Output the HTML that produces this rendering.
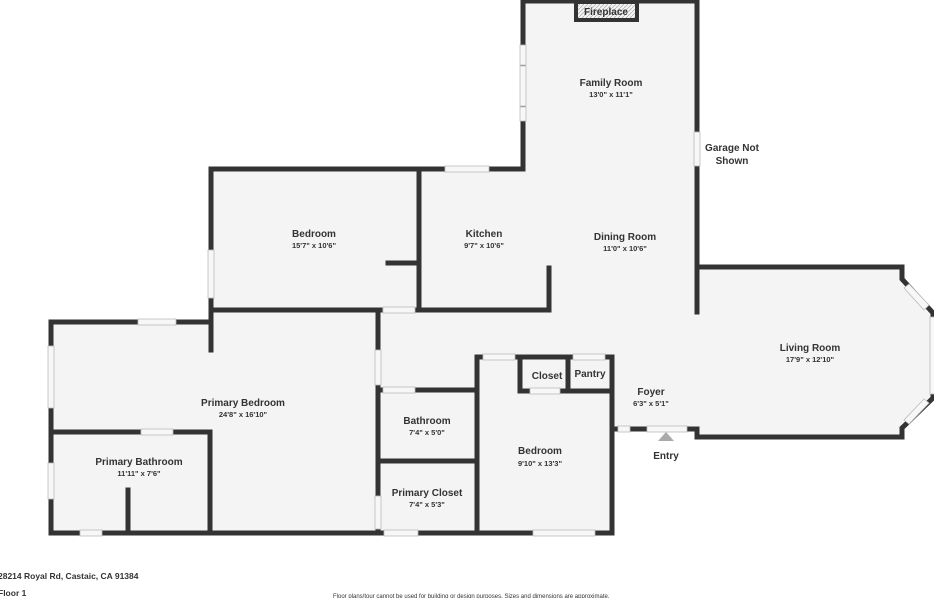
<!DOCTYPE html>
<html><head><style>
html,body{margin:0;padding:0;background:#fff;}
svg{display:block}
text{font-family:"Liberation Sans",sans-serif;fill:#333;text-anchor:middle}
.n{font-size:10px;font-weight:bold}
.d{font-size:7.5px;font-weight:bold}
</style></head><body>
<svg width="934" height="598" viewBox="0 0 934 598" xmlns="http://www.w3.org/2000/svg">
<defs><pattern id="h" width="4" height="4" patternUnits="userSpaceOnUse"><rect width="4" height="4" fill="#f4f4f4"/><path d="M0 4L4 0" stroke="#aaa" stroke-width="0.7"/></pattern></defs>
<!-- floor fill -->
<polygon fill="#f4f4f4" points="523,0 697,0 697,267 902,267 902,279 933,313 933,398 902,428 902,437 697,437 697,429 612,429 612,533 51,533 51,322 211,322 211,169 523,169"/>
<g stroke="#333" stroke-width="5" fill="none" stroke-linecap="square">
<!-- outer -->
<polyline points="523,169 523,1 697,1 697,312"/>
<polyline points="697,267 902,267 902,279 933,313 933,398 902,428 902,437 697,437 697,429 612,429"/>
<polyline points="211,169 523,169"/>
<polyline points="211,169 211,350"/>
<polyline points="211,322 51,322 51,533 612,533 612,357"/>
<!-- interior -->
<line x1="419" y1="169" x2="419" y2="310"/>
<line x1="388" y1="263" x2="419" y2="263"/>
<line x1="211" y1="310" x2="380" y2="310"/>
<line x1="416" y1="310" x2="549" y2="310"/>
<line x1="549" y1="268" x2="549" y2="310"/>
<line x1="378" y1="310" x2="378" y2="533"/>
<line x1="378" y1="390" x2="477" y2="390"/>
<line x1="378" y1="461" x2="477" y2="461"/>
<line x1="477" y1="357" x2="477" y2="533"/>
<line x1="477" y1="357" x2="612" y2="357"/>
<line x1="520" y1="357" x2="520" y2="391"/>
<line x1="568" y1="357" x2="568" y2="391"/>
<line x1="520" y1="391" x2="612" y2="391"/>
<line x1="51" y1="432" x2="210" y2="432"/>
<line x1="210" y1="432" x2="210" y2="533"/>
<line x1="128" y1="490" x2="128" y2="533"/>
</g>
<!-- doors / windows (gaps) -->
<g fill="#f7f7f7" stroke="#bbb" stroke-width="0.8">
<rect x="138" y="319" width="38" height="6"/>
<rect x="48" y="346" width="6" height="62"/>
<rect x="48" y="463" width="6" height="36"/>
<rect x="80" y="530" width="22" height="6"/>
<rect x="141" y="429" width="32" height="6"/>
<rect x="208" y="250" width="6" height="48"/>
<rect x="383" y="307" width="32" height="6"/>
<rect x="445" y="166" width="44" height="6"/>
<rect x="520" y="45" width="6" height="20"/>
<rect x="520" y="66" width="6" height="40"/>
<rect x="520" y="107" width="6" height="14"/>
<rect x="694" y="132" width="6" height="34"/>
<rect x="375" y="350" width="6" height="35"/>
<rect x="383" y="387" width="32" height="6"/>
<rect x="375" y="496" width="6" height="33"/>
<rect x="384" y="530" width="34" height="6"/>
<rect x="483" y="354" width="32" height="6"/>
<rect x="530" y="388" width="30" height="6"/>
<rect x="573" y="354" width="32" height="6"/>
<rect x="533" y="530" width="62" height="6"/>
<rect x="618" y="426" width="12" height="6"/>
<rect x="647" y="426" width="40" height="6"/>
<rect x="930" y="317" width="6" height="77"/>
<polygon points="904,288 909,284 929,305 924,310"/>
<polygon points="904,420 909,424 929,403 924,399"/>
</g>
<!-- fireplace -->
<rect x="576" y="2" width="61" height="18" fill="url(#h)" stroke="#333" stroke-width="4"/>
<text x="606" y="15" class="n" style="font-size:10px">Fireplace</text>
<!-- entry arrow -->
<polygon points="666,432 658,441 674,441" fill="#aaa"/>
<!-- labels -->
<text class="n" x="611" y="86">Family Room</text><text class="d" x="611" y="97">13'0" x 11'1"</text>
<text class="n" x="732" y="151">Garage Not</text><text class="n" x="732" y="164">Shown</text>
<text class="n" x="314" y="237">Bedroom</text><text class="d" x="314" y="248">15'7" x 10'6"</text>
<text class="n" x="484" y="237">Kitchen</text><text class="d" x="484" y="248">9'7" x 10'6"</text>
<text class="n" x="625" y="240">Dining Room</text><text class="d" x="625" y="251">11'0" x 10'6"</text>
<text class="n" x="810" y="351">Living Room</text><text class="d" x="810" y="362">17'9" x 12'10"</text>
<text class="n" x="243" y="406">Primary Bedroom</text><text class="d" x="243" y="417">24'8" x 16'10"</text>
<text class="n" x="139" y="465">Primary Bathroom</text><text class="d" x="139" y="476">11'11" x 7'6"</text>
<text class="n" x="427" y="424">Bathroom</text><text class="d" x="427" y="435">7'4" x 5'0"</text>
<text class="n" x="540" y="454">Bedroom</text><text class="d" x="540" y="466">9'10" x 13'3"</text>
<text class="n" x="427" y="496">Primary Closet</text><text class="d" x="427" y="507">7'4" x 5'3"</text>
<text class="n" x="547" y="379">Closet</text>
<text class="n" x="590" y="377">Pantry</text>
<text class="n" x="651" y="395">Foyer</text><text class="d" x="651" y="406">6'3" x 5'1"</text>
<text class="n" x="666" y="459">Entry</text>
<text x="-2" y="579" style="font-size:8.5px;font-weight:bold;text-anchor:start">28214 Royal Rd, Castaic, CA 91384</text>
<text x="-2" y="596" style="font-size:8.5px;font-weight:bold;text-anchor:start">Floor 1</text>
<text x="333" y="598" style="font-size:6px;text-anchor:start">Floor plans/tour cannot be used for building or design purposes. Sizes and dimensions are approximate.</text>
</svg>
</body></html>
